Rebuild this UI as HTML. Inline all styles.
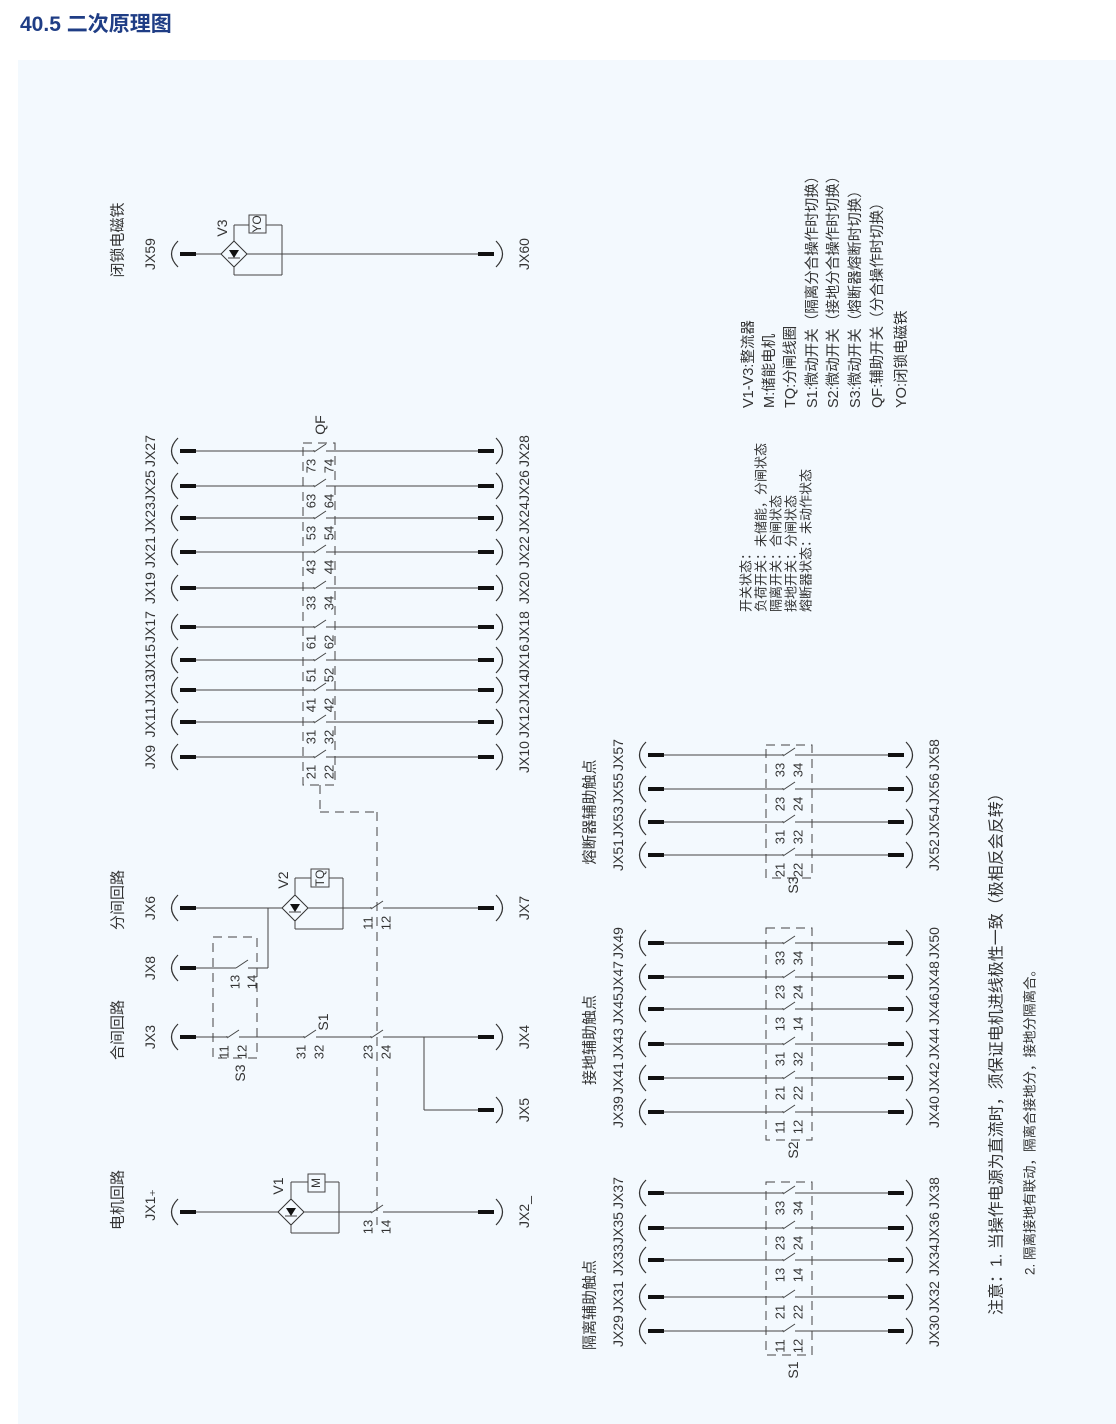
<!DOCTYPE html>
<html><head><meta charset="utf-8">
<style>
html,body{margin:0;padding:0;background:#fff;width:1116px;height:1424px;overflow:hidden}
#t{position:absolute;left:20px;top:8px;font:bold 21px "Liberation Sans","Noto Sans CJK SC",sans-serif;color:#1f3d85}
#p{position:absolute;left:18px;top:60px;width:1098px;height:1364px;background:#f3f9fe}
svg{position:absolute;left:0;top:0}
text{font-family:"Liberation Sans","Noto Sans CJK SC",sans-serif;fill:#333}
</style></head><body>
<div id="t">40.5 二次原理图</div>
<div id="p"></div>
<svg id="s" width="1116" height="1424" viewBox="0 0 1116 1424"></svg>
<script>
var o='';
function L(x1,y1,x2,y2,d){o+='<line x1="'+x1+'" y1="'+y1+'" x2="'+x2+'" y2="'+y2+'" stroke="#444" stroke-width="1"'+(d?' stroke-dasharray="9,6"':'')+'/>';}
function T(x,y,s,f,a){o+='<text transform="translate('+x+','+y+') rotate(-90)" font-size="'+(f||14)+'" text-anchor="'+(a||'middle')+'" dominant-baseline="central">'+s+'</text>';}
function R(x,y,w,h,d){o+='<rect x="'+x+'" y="'+y+'" width="'+w+'" height="'+h+'" fill="none" stroke="#444" stroke-width="1"'+(d?' stroke-dasharray="9,6"':'')+'/>';}
function TL(x,y){o+='<path d="M'+(x+6)+','+(y-13)+' Q'+(x-7)+','+y+' '+(x+6)+','+(y+13)+'" fill="none" stroke="#333" stroke-width="1.2"/><rect x="'+(x+8)+'" y="'+(y-2)+'" width="16" height="4" fill="#111"/>';}
function TR(x,y){o+='<path d="M'+(x-6)+','+(y-13)+' Q'+(x+7)+','+y+' '+(x-6)+','+(y+13)+'" fill="none" stroke="#333" stroke-width="1.2"/><rect x="'+(x-24)+'" y="'+(y-2)+'" width="16" height="4" fill="#111"/>';}
function C(xc,y,a,b){L(xc-6,y,xc-6,y-1);L(xc-6,y+1,xc+6,y-7);if(a){T(xc-9,y+15,a,13);T(xc+9,y+15,b,13);}}
function row(xa,xb,y,xc,a,b,la,lb){TL(xa,y);TR(xb,y);L(xa+24,y,xc-6,y);L(xc+6,y,xb-24,y);C(xc,y,a,b);if(la)T(xa-22,y,la);if(lb)T(xb+22,y,lb);}
function bridge(x,y){o+='<path d="M'+x+','+(y-13)+' L'+(x+13)+','+y+' L'+x+','+(y+13)+' L'+(x-13)+','+y+'Z" fill="none" stroke="#333"/><path d="M'+(x-5)+','+(y-4)+' L'+(x+5)+','+(y-4)+' L'+x+','+(y+4)+'Z" fill="#111"/>';L(x-6,y+4,x+6,y+4);}
TL(172,254);TR(502,254);L(196,254,221,254);L(247,254,478,254);bridge(234,254);
L(234,241,234,225);L(234,225,282,225);L(282,225,282,275);L(282,275,234,275);L(234,275,234,267);
o+='<rect x="249" y="215" width="17" height="18" fill="#f3f9fe" stroke="#444"/>';T(257,224,'YO',12);T(222,228,'V3',14);
T(150,254,'JX59');T(524,254,'JX60');T(118,240,'闭锁电磁铁',15);
var q=[[451,'73','74','JX27','JX28'],[486,'63','64','JX25','JX26'],[518,'53','54','JX23','JX24'],[552,'43','44','JX21','JX22'],[588,'33','34','JX19','JX20'],[627,'61','62','JX17','JX18'],[660,'51','52','JX15','JX16'],[690,'41','42','JX13','JX14'],[722,'31','32','JX11','JX12'],[757,'21','22','JX9','JX10']];
q.forEach(function(r){row(172,502,r[0],320,r[1],r[2],r[3],r[4]);});
R(303,443,32,342,true);T(320,425,'QF',14);
L(320,785,320,812,true);L(320,812,377,812,true);L(377,812,377,1225,true);
T(118,900,'分间回路',15);T(150,908,'JX6');T(524,908,'JX7');
TL(172,908);TR(502,908);L(196,908,282,908);bridge(295,908);L(308,908,371,908);L(383,908,478,908);C(377,908,'11','12');
L(295,895,295,878);L(295,878,343,878);L(343,878,343,929);L(343,929,295,929);L(295,929,295,921);
o+='<rect x="311" y="869" width="18" height="18" fill="#f3f9fe" stroke="#444"/>';T(320,878,'TQ',12);T(283,880,'V2',14);
L(268,908,268,968);L(268,968,248,968);L(236,968,248,960);TL(172,968);L(196,968,236,968);T(150,968,'JX8');T(235,982,'13',13);T(252,982,'14',13);
R(213,937,44,121,true);
T(118,1030,'合间回路',15);T(150,1037,'JX3');T(524,1037,'JX4');T(524,1110,'JX5');
TL(172,1037);TR(502,1037);L(196,1037,227,1037);L(239,1037,304,1037);L(316,1037,371,1037);L(383,1037,478,1037);
C(233,1037,'11','12');C(310,1037,'31','32');C(377,1037,'23','24');T(323,1022,'S1',14);T(240,1073,'S3',14);
L(424,1037,424,1110);L(424,1110,478,1110);TR(502,1110);
T(118,1200,'电机回路',15);T(150,1205,'JX1₊');T(524,1212,'JX2_');
TL(172,1212);TR(502,1212);L(196,1212,278,1212);bridge(291,1212);L(304,1212,371,1212);L(383,1212,478,1212);C(377,1212,'13','14');
L(291,1199,291,1182);L(291,1182,339,1182);L(339,1182,339,1233);L(339,1233,291,1233);L(291,1233,291,1225);
o+='<rect x="308" y="1174" width="17" height="18" fill="#f3f9fe" stroke="#444"/>';T(316,1183,'M',12);T(278,1186,'V1',14);
function grp(rows,box,lbl,ly,title,ty){rows.forEach(function(r){row(640,912,r[0],789,r[1],r[2],r[3],r[4]);});R(766,box[0],46,box[1]-box[0],true);T(793,ly,lbl,14);T(590,ty,title,15);}
grp([[755,'33','34','JX57','JX58'],[789,'23','24','JX55','JX56'],[822,'31','32','JX53','JX54'],[855,'21','22','JX51','JX52']],[745,878],'S3',885,'熔断器辅助触点',812);
grp([[943,'33','34','JX49','JX50'],[977,'23','24','JX47','JX48'],[1009,'13','14','JX45','JX46'],[1044,'31','32','JX43','JX44'],[1078,'21','22','JX41','JX42'],[1112,'11','12','JX39','JX40']],[928,1140],'S2',1150,'接地辅助触点',1040);
grp([[1193,'33','34','JX37','JX38'],[1228,'23','24','JX35','JX36'],[1260,'13','14','JX33','JX34'],[1297,'21','22','JX31','JX32'],[1331,'11','12','JX29','JX30']],[1182,1355],'S1',1370,'隔离辅助触点',1305);
var lg=['V1-V3:整流器','M:储能电机','TQ:分闸线圈','S1:微动开关（隔离分合操作时切换）','S2:微动开关（接地分合操作时切换）','S3:微动开关（熔断器熔断时切换）','QF:辅助开关（分合操作时切换）','YO:闭锁电磁铁'];
var lx=[749,770,791,813,834,856,878,902];
lg.forEach(function(s,i){T(lx[i],408,s,14.5,'start');});
var st=['开关状态：','负荷开关：未储能，分闸状态','隔离开关：合闸状态','接地开关：分闸状态','熔断器状态：未动作状态'];
st.forEach(function(s,i){T(746+i*15,612,s,13,'start');});
T(997,1315,'注意：1. 当操作电源为直流时，须保证电机进线极性一致（极相反会反转）',16,'start');
T(1030,1275,'2. 隔离接地有联动，隔离合接地分，接地分隔离合。',13.5,'start');
document.getElementById('s').innerHTML=o;
</script>
</body></html>
